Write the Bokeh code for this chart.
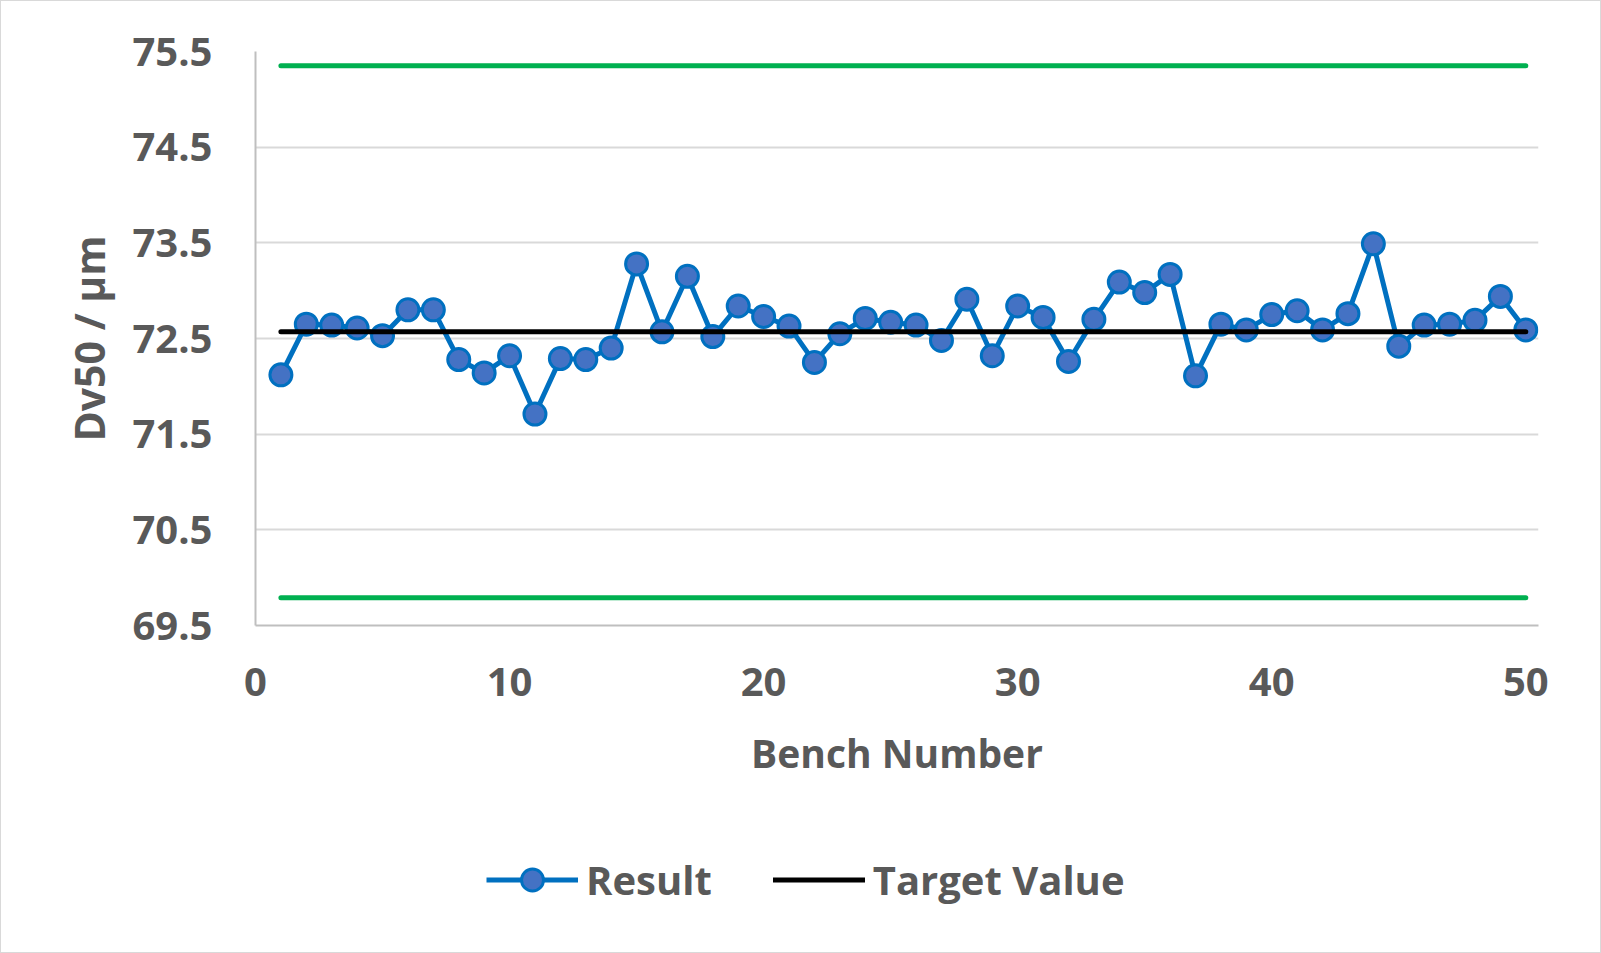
from bokeh.plotting import figure
from bokeh.layouts import column
from bokeh.models import Legend, LegendItem, FixedTicker, Range1d, CustomJSTickFormatter
from bokeh.embed import file_html
from bokeh.resources import INLINE

bench = list(range(1, 51))
result = [72.12, 72.65, 72.64, 72.61, 72.53, 72.80, 72.80, 72.28, 72.14, 72.32,
          71.71, 72.29, 72.28, 72.40, 73.28, 72.57, 73.15, 72.52, 72.84, 72.73,
          72.63, 72.25, 72.55, 72.71, 72.67, 72.64, 72.48, 72.91, 72.32, 72.84,
          72.72, 72.26, 72.70, 73.09, 72.98, 73.17, 72.11, 72.65, 72.59, 72.75,
          72.79, 72.59, 72.76, 73.49, 72.42, 72.64, 72.65, 72.69, 72.94, 72.59]
target_value = 72.57
upper_limit = 75.35
lower_limit = 69.79
x_ticks = [0, 10, 20, 30, 40, 50]
y_ticks = [69.5, 70.5, 71.5, 72.5, 73.5, 74.5, 75.5]

FONT = "Open Sans"
TXT = "#595959"
W = 1599
MAIN_H = 810

p = figure(width=W, height=MAIN_H, output_backend="svg", toolbar_location=None,
           x_range=Range1d(0, 50.5), y_range=Range1d(69.5, 75.5),
           min_border_left=254, min_border_right=62, min_border_top=50,
           min_border_bottom=MAIN_H - 624)
p.outline_line_color = None
p.background_fill_color = "white"
p.border_fill_color = "white"

p.xgrid.grid_line_color = None
p.ygrid.grid_line_color = "#D9D9D9"
p.ygrid.grid_line_width = 2
p.ygrid.ticker = FixedTicker(ticks=y_ticks)

p.xaxis.ticker = FixedTicker(ticks=x_ticks)
p.yaxis.ticker = FixedTicker(ticks=y_ticks)
p.yaxis.formatter = CustomJSTickFormatter(code="return tick.toFixed(1);")

for ax in (p.xaxis[0], p.yaxis[0]):
    ax.major_tick_line_color = None
    ax.minor_tick_line_color = None
    ax.axis_line_color = "#BFBFBF"
    ax.axis_line_width = 2
    ax.major_label_text_font = FONT
    ax.major_label_text_font_style = "bold"
    ax.major_label_text_font_size = "40px"
    ax.major_label_text_color = TXT
    ax.axis_label_text_font = FONT
    ax.axis_label_text_font_style = "bold"
    ax.axis_label_text_color = TXT

p.xaxis.axis_label_text_font_size = "39px"
p.yaxis.axis_label_text_font_size = "41px"
p.xaxis.axis_label = "Bench Number"
p.yaxis.axis_label = "Dv50 / µm"
p.yaxis.major_label_standoff = 37
p.xaxis.major_label_standoff = 36
p.yaxis.axis_label_standoff = 12
p.xaxis.axis_label_standoff = 27

p.line([bench[0], bench[-1]], [upper_limit, upper_limit], line_color="#00B050", line_width=5, line_cap="round")
p.line([bench[0], bench[-1]], [lower_limit, lower_limit], line_color="#00B050", line_width=5, line_cap="round")

RESULT_LINE = dict(line_color="#0070C0", line_width=5, line_join="round")
RESULT_MARK = dict(size=22, fill_color="#4472C4", line_color="#0070C0", line_width=3)
TARGET_LINE = dict(line_color="black", line_width=5, line_cap="round")

p.line(bench, result, **RESULT_LINE)
p.scatter(bench, result, **RESULT_MARK)
p.line([bench[0], bench[-1]], [target_value, target_value], **TARGET_LINE)

# legend strip below the chart (its renderers use the same series, out of its view)
lg = figure(width=W, height=953 - 2 - MAIN_H, output_backend="svg", toolbar_location=None,
            x_axis_type=None, y_axis_type=None, x_range=Range1d(0, 1), y_range=Range1d(0, 1),
            min_border_left=0, min_border_right=0, min_border_top=0, min_border_bottom=0)
lg.outline_line_color = None
lg.grid.grid_line_color = None
rl = lg.line(bench, result, **RESULT_LINE)
rs = lg.scatter(bench, result, **RESULT_MARK)
tl = lg.line([bench[0], bench[-1]], [target_value, target_value], **TARGET_LINE)

legend = Legend(items=[LegendItem(label="Result", renderers=[rl, rs]),
                       LegendItem(label="Target Value", renderers=[tl])],
                location=(231, 45), orientation="horizontal",
                label_text_font=FONT, label_text_font_style="bold",
                label_text_font_size="40px", label_text_color=TXT,
                glyph_width=92, glyph_height=55, spacing=61, label_standoff=8,
                padding=10, margin=0,
                border_line_color=None, background_fill_alpha=0)
lg.add_layout(legend, "center")

layout = column(p, lg, spacing=0)
layout.styles = {"border": "1px solid #D9D9D9"}

open("out.html", "w").write(file_html(layout, INLINE))
